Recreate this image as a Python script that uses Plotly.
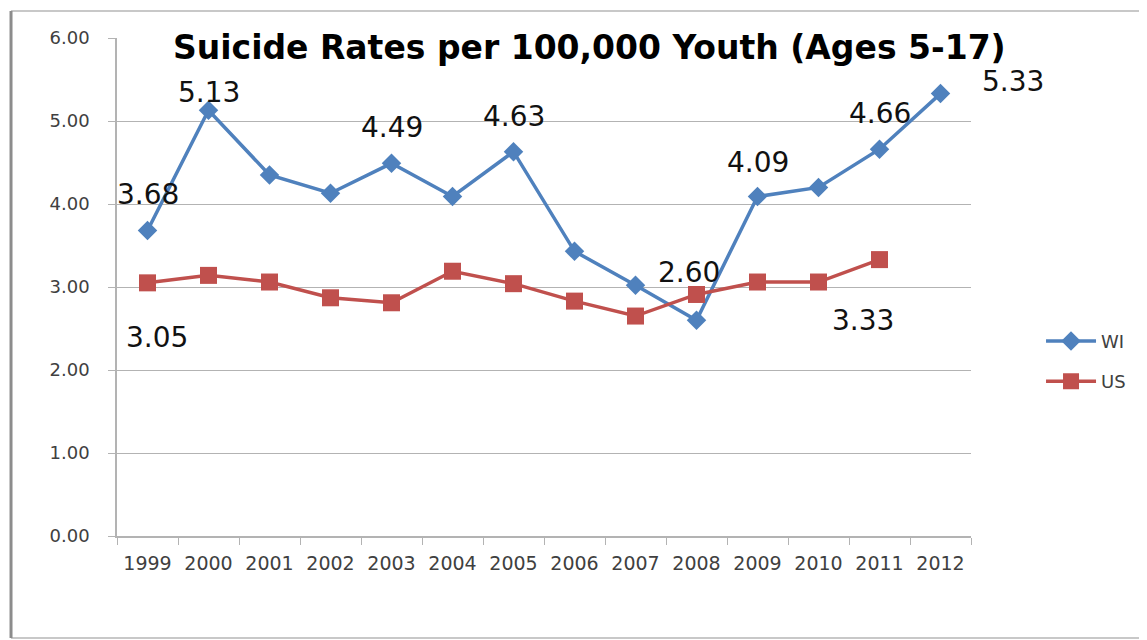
import plotly.graph_objects as go

years = ["1999", "2000", "2001", "2002", "2003", "2004", "2005", "2006",
         "2007", "2008", "2009", "2010", "2011", "2012"]
wi_rates = [3.68, 5.13, 4.35, 4.13, 4.49, 4.09, 4.63, 3.43, 3.02, 2.60,
            4.09, 4.20, 4.66, 5.33]
us_years = years[:13]
us_rates = [3.05, 3.14, 3.06, 2.87, 2.81, 3.19, 3.04, 2.83, 2.65, 2.91,
            3.06, 3.06, 3.33]

# which points carry a value label, with a (dx, dy) pixel offset (style only)
wi_label_offsets = {0: (0, 36), 1: (0, 18), 4: (0, 36), 6: (0, 35),
                    9: (-8, 48), 10: (0, 34), 12: (0, 36), 13: (72, 12)}
us_label_offsets = {0: (9, -55), 12: (-17, -61)}

BLUE = "#4F81BD"
RED = "#C0504D"
GRID = "#b3b3b3"
TXT = "#404040"
FONT = "DejaVu Sans"

fig = go.Figure()
fig.add_trace(go.Scatter(
    x=years, y=wi_rates, name="WI", mode="lines+markers",
    line=dict(color=BLUE, width=3.5),
    marker=dict(symbol="diamond", size=15, color=BLUE),
    legendgroup="a"))
fig.add_trace(go.Scatter(
    x=us_years, y=us_rates, name="US", mode="lines+markers",
    line=dict(color=RED, width=3.5),
    marker=dict(symbol="square", size=17, color=RED),
    legendgroup="b"))

annotations = []
for xs, ys, offs in ((years, wi_rates, wi_label_offsets),
                     (us_years, us_rates, us_label_offsets)):
    for i, off in offs.items():
        annotations.append(dict(
            x=i, y=ys[i], xref="x", yref="y", text=f"{ys[i]:.2f}",
            showarrow=False, xshift=off[0], yshift=off[1],
            font=dict(family=FONT, size=28, color="#111111")))

annotations.append(dict(
    text="Suicide Rates per 100,000 Youth (Ages 5-17)",
    xref="paper", yref="paper", x=0.5527, y=0.981, xanchor="center",
    yanchor="middle", showarrow=False,
    font=dict(family="DejaVu Sans", size=33, color="#000000", weight="bold")))

FX0, FX1, FY0, FY1 = -0.1241, 1.35, -0.2048, 1.0542
fig.update_layout(
    width=1139, height=632,
    margin=dict(l=109, r=176, t=30, b=104),
    paper_bgcolor="white", plot_bgcolor="white",
    showlegend=True,
    legend=dict(x=1.082, y=0.351, xanchor="left", yanchor="middle",
                font=dict(family=FONT, size=18, color=TXT),
                traceorder="grouped", tracegroupgap=14, itemwidth=50,
                bgcolor="rgba(0,0,0,0)"),
    annotations=annotations,
    shapes=[
        dict(type="line", xref="paper", yref="paper",
             x0=FX0, x1=FX1, y0=FY1, y1=FY1,
             line=dict(color="#c8c8c8", width=2), layer="below"),
        dict(type="line", xref="paper", yref="paper",
             x0=FX0, x1=FX1, y0=FY0, y1=FY0,
             line=dict(color="#c8c8c8", width=2), layer="below"),
        dict(type="line", xref="paper", yref="paper",
             x0=FX0, x1=FX0, y0=FY0, y1=FY1,
             line=dict(color="#8c8c8c", width=3), layer="below"),
    ],
)
fig.update_xaxes(
    type="category", range=[-0.5, 13.5], tickson="boundaries",
    ticks="outside", ticklen=7, tickcolor=GRID, showgrid=False,
    showline=True, linecolor=GRID, linewidth=1.5,
    tickfont=dict(family=FONT, size=19, color=TXT), ticklabelstandoff=9)
fig.update_yaxes(
    range=[0, 6], dtick=1, tickformat=".2f", ticks="outside", ticklen=7,
    tickcolor=GRID, showgrid=True, gridcolor=GRID, gridwidth=1.2,
    showline=True, linecolor=GRID, linewidth=1.5, zeroline=False,
    tickfont=dict(family=FONT, size=18, color=TXT), ticklabelstandoff=15)

fig.write_html("out.html")
